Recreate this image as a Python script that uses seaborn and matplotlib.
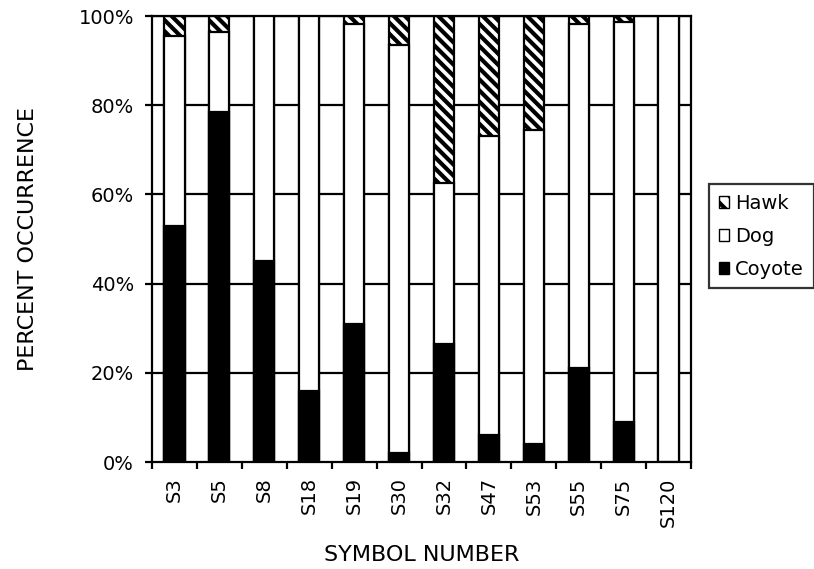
import matplotlib
matplotlib.use("Agg")
import matplotlib.pyplot as plt
import seaborn as sns
import numpy as np
import pandas as pd
from matplotlib.patches import Patch

symbols = ["S3", "S5", "S8", "S18", "S19", "S30", "S32", "S47", "S53", "S55", "S75", "S120"]
coyote = [53.0, 78.5, 45.0, 16.0, 31.0, 2.0, 26.5, 6.0, 4.0, 21.0, 9.0, 0.0]
dog = [42.5, 18.0, 55.0, 84.0, 67.3, 91.5, 36.1, 67.1, 70.4, 77.1, 89.7, 100.0]
hawk = [4.5, 3.5, 0.0, 0.0, 1.7, 6.5, 37.4, 26.9, 25.6, 1.9, 1.3, 0.0]

sns.set_theme(style="white")
plt.rcParams["font.family"] = ["DejaVu Sans"]
plt.rcParams["hatch.linewidth"] = 3.0
plt.rcParams["hatch.color"] = "black"
for k in ["text.color", "axes.labelcolor", "xtick.color", "ytick.color"]:
    plt.rcParams[k] = "black"

df = pd.DataFrame({"symbol": symbols, "coyote": coyote, "dog": dog, "hawk": hawk})
df["top_dog"] = df["coyote"] + df["dog"]
df["top_hawk"] = df["top_dog"] + df["hawk"]

fig = plt.figure(figsize=(8.14, 5.69), dpi=100)
ax = fig.add_axes([152 / 814, 1 - 462 / 569, (691 - 152) / 814, (462 - 16) / 569])

# gridlines behind bars
for yv in [20, 40, 60, 80, 100]:
    ax.axhline(yv, color="black", lw=1.6, zorder=0)

bw = 0.45
sns.barplot(data=df, x="symbol", y="top_hawk", color="white", edgecolor="black",
            linewidth=1.6, width=bw, hatch="\\\\\\", ax=ax, zorder=2, saturation=1)
sns.barplot(data=df, x="symbol", y="top_dog", color="white", edgecolor="black",
            linewidth=1.6, width=bw, ax=ax, zorder=3, saturation=1)
sns.barplot(data=df, x="symbol", y="coyote", color="black", edgecolor="black",
            linewidth=1.6, width=bw, ax=ax, zorder=4, saturation=1)

ax.set_xlim(-0.5, len(symbols) - 0.5)
ax.set_ylim(0, 100)
ax.set_yticks([0, 20, 40, 60, 80, 100])
ax.set_yticklabels(["0%", "20%", "40%", "60%", "80%", "100%"], fontsize=14)
ax.set_xticks(range(len(symbols)))
ax.set_xticklabels(symbols, rotation=90, fontsize=14)
ax.tick_params(axis="x", length=0, pad=11)
ax.set_xticks(np.arange(-0.5, len(symbols) + 0.5, 1), minor=True)
ax.tick_params(axis="x", which="minor", length=5, width=1.6, color="black", direction="out", bottom=True)
ax.tick_params(axis="y", length=5, width=1.6, color="black", direction="out", pad=8, left=True)

for s in ax.spines.values():
    s.set_visible(True)
    s.set_color("black")
    s.set_linewidth(1.6)

ax.set_xlabel("SYMBOL NUMBER", fontsize=16)
ax.set_ylabel("PERCENT OCCURRENCE", fontsize=16)
ax.xaxis.set_label_coords((422 - 152) / 539, -(545 - 462) / 446)
ax.yaxis.set_label_coords((38 - 152) / 539, 0.5)
ax.grid(False)

handles = [
    Patch(facecolor="white", edgecolor="black", hatch="\\\\", label="Hawk"),
    Patch(facecolor="white", edgecolor="black", label="Dog"),
    Patch(facecolor="black", edgecolor="black", label="Coyote"),
]
leg = fig.legend(handles=handles, loc="upper left", bbox_to_anchor=(709 / 814, 1 - 184 / 569),
                 frameon=True, fontsize=14, handlelength=0.55, handleheight=0.55,
                 handletextpad=0.3, labelspacing=0.72, borderpad=0.5, fancybox=False,
                 borderaxespad=0)
leg.get_frame().set_edgecolor("black")
leg.get_frame().set_linewidth(1.6)

fig.savefig("out.png", dpi=100)
